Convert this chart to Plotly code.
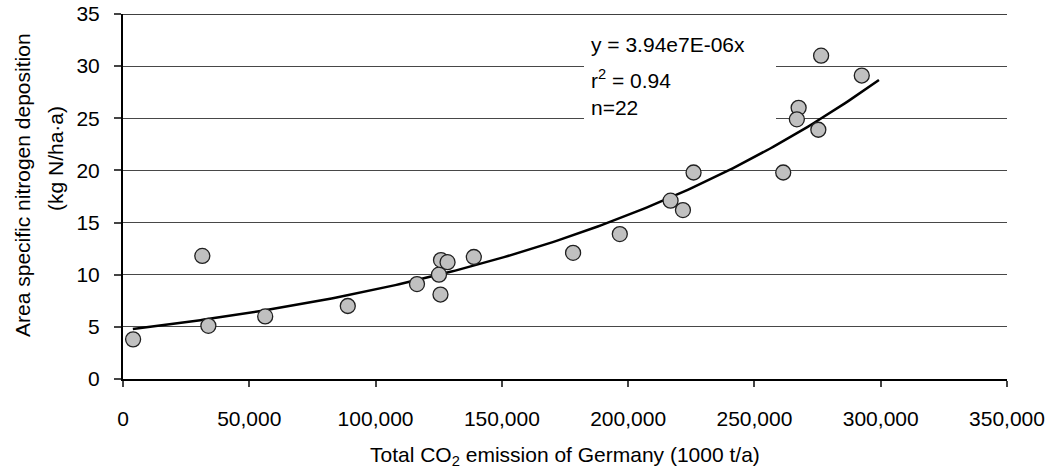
import numpy as np
import plotly.graph_objects as go

# Total CO2 emission of Germany (1000 t/a) and area specific N deposition (kg N/ha·a)
co2_emission = [4000, 31400, 33800, 56300, 89000, 116400, 125100, 125700, 125900,
                128500, 138900, 178200, 196700, 216800, 221700, 225900, 261400,
                276400, 292500, 267500, 266800, 275300]
n_deposition = [3.8, 11.8, 5.1, 6.0, 7.0, 9.1, 10.0, 8.1, 11.4,
                11.2, 11.7, 12.1, 13.9, 17.1, 16.2, 19.8, 19.8,
                31.0, 29.1, 26.0, 24.9, 23.9]

# Exponential trend y = a * exp(b * x)
trend_a = 4.69
trend_b = 6.05e-6
trend_x_start = 3900
trend_x_end = 299300

x_ticks = [0, 50000, 100000, 150000, 200000, 250000, 300000, 350000]
y_ticks = [0, 5, 10, 15, 20, 25, 30, 35]

FONT = "Liberation Sans, Arial, sans-serif"

trend_x = np.linspace(trend_x_start, trend_x_end, 200)
trend_y = trend_a * np.exp(trend_b * trend_x)

fig = go.Figure()
fig.add_trace(go.Scatter(
    x=trend_x, y=trend_y, mode="lines",
    line=dict(color="black", width=2.5), hoverinfo="skip", showlegend=False,
))
fig.add_trace(go.Scatter(
    x=co2_emission, y=n_deposition, mode="markers",
    marker=dict(size=15, color="#c0c0c0", line=dict(color="#202020", width=1.3)),
    showlegend=False,
))

# top frame line of the plot area
fig.add_shape(type="line", xref="paper", yref="y", x0=0, x1=1, y0=35, y1=35,
              line=dict(color="black", width=1.5), layer="above")

# white box behind the regression statistics
fig.add_shape(type="rect", xref="paper", yref="y", x0=0.5215, x1=0.7387,
              y0=24.6, y1=33.6, fillcolor="white", line=dict(width=0), layer="above")

stats = ["y = 3.94e7E-06x", "r<sup>2</sup> = 0.94", "n=22"]
stats_y = [32.1, 28.8, 26.0]
for txt, yy in zip(stats, stats_y):
    fig.add_annotation(text=txt, xref="paper", yref="y", x=0.527, y=yy,
                       xanchor="left", yanchor="middle", showarrow=False,
                       font=dict(family=FONT, size=21, color="black"))

fig.add_annotation(text="Total CO<sub>2</sub> emission of Germany (1000 t/a)",
                   xref="paper", yref="paper", x=0.5, y=-0.21, xanchor="center",
                   yanchor="middle", showarrow=False,
                   font=dict(family=FONT, size=21, color="black"))
fig.add_annotation(text="Area specific nitrogen deposition", textangle=-90,
                   xref="paper", yref="paper", x=-0.1143, y=0.5315,
                   xanchor="center", yanchor="middle", showarrow=False,
                   font=dict(family=FONT, size=21, color="black"))
fig.add_annotation(text="(kg N/ha·a)", textangle=-90,
                   xref="paper", yref="paper", x=-0.0769, y=0.6027,
                   xanchor="center", yanchor="middle", showarrow=False,
                   font=dict(family=FONT, size=21, color="black"))

fig.update_xaxes(
    range=[0, 350000], tickvals=x_ticks, tickformat=",d", automargin=False,
    showgrid=False, zeroline=False, showline=True, linecolor="black", linewidth=2,
    ticks="outside", ticklen=6, tickcolor="#444", tickwidth=1.5,
    ticklabelstandoff=14,
    tickfont=dict(family=FONT, size=21, color="black"),
)
fig.update_yaxes(
    range=[0, 35], tickvals=y_ticks, automargin=False,
    showgrid=True, gridcolor="#484848", gridwidth=1, zeroline=False,
    showline=True, linecolor="black", linewidth=2,
    ticks="outside", ticklen=7, tickcolor="#444", tickwidth=1.5,
    ticklabelstandoff=10,
    tickfont=dict(family=FONT, size=21, color="black"),
)

fig.update_layout(
    width=1057, height=473,
    margin=dict(l=123, r=50, t=14, b=94),
    plot_bgcolor="white", paper_bgcolor="white",
    font=dict(family=FONT, color="black"),
)

fig.write_html("out.html")
